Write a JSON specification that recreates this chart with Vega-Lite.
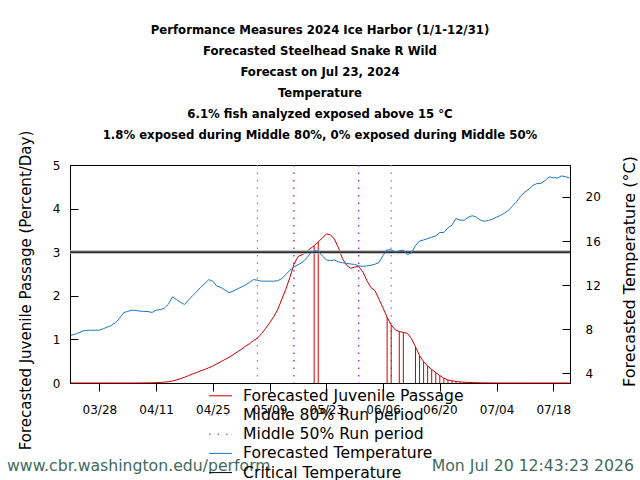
{
  "$schema": "https://vega.github.io/schema/vega-lite/v6.json",
  "width": 500,
  "height": 218,
  "autosize": {"type": "none"},
  "padding": {"left": 70, "top": 165, "right": 70, "bottom": 97},
  "background": "white",
  "title": {
    "text": [
      "Performance Measures 2024 Ice Harbor (1/1-12/31)",
      "Forecasted Steelhead Snake R Wild",
      "Forecast on Jul 23, 2024",
      "Temperature",
      "6.1% fish analyzed exposed above 15 °C",
      "1.8% exposed during Middle 80%, 0% exposed during Middle 50%"
    ],
    "anchor": "middle",
    "font": "'DejaVu Sans Condensed', 'Liberation Sans Narrow', sans-serif",
    "fontSize": 13,
    "fontWeight": "bold",
    "lineHeight": 21,
    "color": "black",
    "offset": -12
  },
  "datasets": {
    "daily": [
      {"date": "2024-03-21", "passage": 0, "temp": 7.45},
      {"date": "2024-03-22", "passage": 0, "temp": 7.55},
      {"date": "2024-03-23", "passage": 0, "temp": 7.68},
      {"date": "2024-03-24", "passage": 0, "temp": 7.85},
      {"date": "2024-03-25", "passage": 0, "temp": 7.9},
      {"date": "2024-03-26", "passage": 0, "temp": 7.91},
      {"date": "2024-03-27", "passage": 0, "temp": 7.91},
      {"date": "2024-03-28", "passage": 0, "temp": 7.92},
      {"date": "2024-03-29", "passage": 0, "temp": 8.05},
      {"date": "2024-03-30", "passage": 0, "temp": 8.2},
      {"date": "2024-03-31", "passage": 0, "temp": 8.35},
      {"date": "2024-04-01", "passage": 0, "temp": 8.6},
      {"date": "2024-04-02", "passage": 0, "temp": 9.0},
      {"date": "2024-04-03", "passage": 0, "temp": 9.5},
      {"date": "2024-04-04", "passage": 0, "temp": 9.62},
      {"date": "2024-04-05", "passage": 0, "temp": 9.73},
      {"date": "2024-04-06", "passage": 0, "temp": 9.7},
      {"date": "2024-04-07", "passage": 0.001, "temp": 9.64},
      {"date": "2024-04-08", "passage": 0.002, "temp": 9.62},
      {"date": "2024-04-09", "passage": 0.003, "temp": 9.6},
      {"date": "2024-04-10", "passage": 0.005, "temp": 9.52},
      {"date": "2024-04-11", "passage": 0.008, "temp": 9.73},
      {"date": "2024-04-12", "passage": 0.013, "temp": 9.77},
      {"date": "2024-04-13", "passage": 0.02, "temp": 9.9},
      {"date": "2024-04-14", "passage": 0.03, "temp": 10.25},
      {"date": "2024-04-15", "passage": 0.045, "temp": 10.93},
      {"date": "2024-04-16", "passage": 0.07, "temp": 10.7},
      {"date": "2024-04-17", "passage": 0.1, "temp": 10.45},
      {"date": "2024-04-18", "passage": 0.13, "temp": 10.24},
      {"date": "2024-04-19", "passage": 0.17, "temp": 10.65},
      {"date": "2024-04-20", "passage": 0.21, "temp": 11.05},
      {"date": "2024-04-21", "passage": 0.24, "temp": 11.4},
      {"date": "2024-04-22", "passage": 0.28, "temp": 11.8},
      {"date": "2024-04-23", "passage": 0.31, "temp": 12.15},
      {"date": "2024-04-24", "passage": 0.35, "temp": 12.5},
      {"date": "2024-04-25", "passage": 0.39, "temp": 12.35},
      {"date": "2024-04-26", "passage": 0.44, "temp": 11.9},
      {"date": "2024-04-27", "passage": 0.49, "temp": 11.8},
      {"date": "2024-04-28", "passage": 0.54, "temp": 11.55},
      {"date": "2024-04-29", "passage": 0.59, "temp": 11.32},
      {"date": "2024-04-30", "passage": 0.65, "temp": 11.45},
      {"date": "2024-05-01", "passage": 0.71, "temp": 11.65},
      {"date": "2024-05-02", "passage": 0.77, "temp": 11.82},
      {"date": "2024-05-03", "passage": 0.84, "temp": 12.0},
      {"date": "2024-05-04", "passage": 0.9, "temp": 12.25},
      {"date": "2024-05-05", "passage": 0.97, "temp": 12.5},
      {"date": "2024-05-06", "passage": 1.03, "temp": 12.45},
      {"date": "2024-05-07", "passage": 1.13, "temp": 12.36},
      {"date": "2024-05-08", "passage": 1.25, "temp": 12.36},
      {"date": "2024-05-09", "passage": 1.38, "temp": 12.36},
      {"date": "2024-05-10", "passage": 1.52, "temp": 12.36},
      {"date": "2024-05-11", "passage": 1.68, "temp": 12.4},
      {"date": "2024-05-12", "passage": 1.92, "temp": 12.6},
      {"date": "2024-05-13", "passage": 2.15, "temp": 12.95},
      {"date": "2024-05-14", "passage": 2.42, "temp": 13.35},
      {"date": "2024-05-15", "passage": 2.72, "temp": 13.65},
      {"date": "2024-05-16", "passage": 2.9, "temp": 13.85},
      {"date": "2024-05-17", "passage": 2.94, "temp": 14.05},
      {"date": "2024-05-18", "passage": 3.0, "temp": 14.4},
      {"date": "2024-05-19", "passage": 3.08, "temp": 14.85},
      {"date": "2024-05-20", "passage": 3.15, "temp": 15.12},
      {"date": "2024-05-21", "passage": 3.24, "temp": 15.1},
      {"date": "2024-05-22", "passage": 3.32, "temp": 14.65},
      {"date": "2024-05-23", "passage": 3.42, "temp": 14.3},
      {"date": "2024-05-24", "passage": 3.4, "temp": 14.22},
      {"date": "2024-05-25", "passage": 3.3, "temp": 14.28},
      {"date": "2024-05-26", "passage": 3.1, "temp": 14.12},
      {"date": "2024-05-27", "passage": 2.85, "temp": 14.03},
      {"date": "2024-05-28", "passage": 2.7, "temp": 13.98},
      {"date": "2024-05-29", "passage": 2.63, "temp": 13.92},
      {"date": "2024-05-30", "passage": 2.66, "temp": 13.88},
      {"date": "2024-05-31", "passage": 2.67, "temp": 13.75},
      {"date": "2024-06-01", "passage": 2.55, "temp": 13.7},
      {"date": "2024-06-02", "passage": 2.35, "temp": 13.75},
      {"date": "2024-06-03", "passage": 2.19, "temp": 13.8},
      {"date": "2024-06-04", "passage": 2.12, "temp": 13.9},
      {"date": "2024-06-05", "passage": 1.92, "temp": 14.05},
      {"date": "2024-06-06", "passage": 1.72, "temp": 14.7},
      {"date": "2024-06-07", "passage": 1.51, "temp": 15.2},
      {"date": "2024-06-08", "passage": 1.33, "temp": 15.2},
      {"date": "2024-06-09", "passage": 1.22, "temp": 14.98},
      {"date": "2024-06-10", "passage": 1.18, "temp": 15.1},
      {"date": "2024-06-11", "passage": 1.16, "temp": 15.18},
      {"date": "2024-06-12", "passage": 1.14, "temp": 14.75},
      {"date": "2024-06-13", "passage": 1.02, "temp": 14.93},
      {"date": "2024-06-14", "passage": 0.83, "temp": 15.6},
      {"date": "2024-06-15", "passage": 0.63, "temp": 16.0},
      {"date": "2024-06-16", "passage": 0.49, "temp": 16.1},
      {"date": "2024-06-17", "passage": 0.39, "temp": 16.22},
      {"date": "2024-06-18", "passage": 0.31, "temp": 16.35},
      {"date": "2024-06-19", "passage": 0.24, "temp": 16.47},
      {"date": "2024-06-20", "passage": 0.17, "temp": 16.77},
      {"date": "2024-06-21", "passage": 0.11, "temp": 16.77},
      {"date": "2024-06-22", "passage": 0.07, "temp": 17.2},
      {"date": "2024-06-23", "passage": 0.05, "temp": 17.44},
      {"date": "2024-06-24", "passage": 0.035, "temp": 18.05},
      {"date": "2024-06-25", "passage": 0.025, "temp": 17.9},
      {"date": "2024-06-26", "passage": 0.018, "temp": 17.89},
      {"date": "2024-06-27", "passage": 0.013, "temp": 18.15},
      {"date": "2024-06-28", "passage": 0.009, "temp": 18.3},
      {"date": "2024-06-29", "passage": 0.006, "temp": 18.18},
      {"date": "2024-06-30", "passage": 0.004, "temp": 17.9},
      {"date": "2024-07-01", "passage": 0.003, "temp": 17.8},
      {"date": "2024-07-02", "passage": 0.002, "temp": 17.86},
      {"date": "2024-07-03", "passage": 0.001, "temp": 18.0},
      {"date": "2024-07-04", "passage": 0, "temp": 18.17},
      {"date": "2024-07-05", "passage": 0, "temp": 18.33},
      {"date": "2024-07-06", "passage": 0, "temp": 18.55},
      {"date": "2024-07-07", "passage": 0, "temp": 18.8},
      {"date": "2024-07-08", "passage": 0, "temp": 19.2},
      {"date": "2024-07-09", "passage": 0, "temp": 19.6},
      {"date": "2024-07-10", "passage": 0, "temp": 20.1},
      {"date": "2024-07-11", "passage": 0, "temp": 20.45},
      {"date": "2024-07-12", "passage": 0, "temp": 20.7},
      {"date": "2024-07-13", "passage": 0, "temp": 21.05},
      {"date": "2024-07-14", "passage": 0, "temp": 21.22},
      {"date": "2024-07-15", "passage": 0, "temp": 21.24},
      {"date": "2024-07-16", "passage": 0, "temp": 21.5},
      {"date": "2024-07-17", "passage": 0, "temp": 21.82},
      {"date": "2024-07-18", "passage": 0, "temp": 21.75},
      {"date": "2024-07-19", "passage": 0, "temp": 21.72},
      {"date": "2024-07-20", "passage": 0, "temp": 21.9},
      {"date": "2024-07-21", "passage": 0, "temp": 21.85},
      {"date": "2024-07-22", "passage": 0, "temp": 21.72}
    ],
    "periods": [
      {"date": "2024-05-06", "series": "Middle 80% Run period"},
      {"date": "2024-06-08", "series": "Middle 80% Run period"},
      {"date": "2024-05-15", "series": "Middle 50% Run period"},
      {"date": "2024-05-31", "series": "Middle 50% Run period"}
    ]
  },
  "layer": [
    {
      "layer": [
        {
          "data": {"name": "periods"},
          "mark": {"type": "rule", "strokeWidth": 1.2, "strokeDash": [1.5, 6]},
          "encoding": {
            "x": {
              "field": "date",
              "type": "temporal",
              "scale": {"type": "utc", "domain": [1710957600000, 1721617200000]},
              "axis": {
                "title": null,
                "labelExpr": "utcFormat(datum.value, '%m/%d')",
                "values": [1711584000000, 1712793600000, 1714003200000, 1715212800000, 1716422400000, 1717632000000, 1718841600000, 1720051200000, 1721260800000],
                "tickSize": 8,
                "labelPadding": 13,
                "labelFlush": false,
                "labelOverlap": false
              }
            },
            "color": {
              "field": "series",
              "type": "nominal",
              "scale": {
                "domain": [
                  "Forecasted Juvenile Passage",
                  "Middle 80% Run period",
                  "Middle 50% Run period",
                  "Forecasted Temperature",
                  "Critical Temperature"
                ],
                "range": ["#cc0000", "#888888", "#9400d3", "#1a78c2", "black"]
              },
              "legend": {
                "title": null,
                "encode": {
                  "symbols": {
                    "update": {
                      "strokeDash": {"signal": "indexof(['Middle 80% Run period','Middle 50% Run period'], datum.value) >= 0 ? [1.5, 7] : []"}
                    }
                  }
                }
              }
            }
          }
        },
        {
          "data": {"name": "daily"},
          "transform": [{"filter": "datum.temp > 15 && datum.passage > 0"}],
          "mark": {"type": "rule", "color": "#cc0000", "strokeWidth": 1},
          "encoding": {
            "x": {"field": "date", "type": "temporal"},
            "y": {"field": "passage", "type": "quantitative"},
            "y2": {"datum": 0}
          }
        },
        {
          "data": {"name": "daily"},
          "mark": {"type": "line", "strokeWidth": 1, "interpolate": "linear"},
          "encoding": {
            "x": {"field": "date", "type": "temporal"},
            "y": {
              "field": "passage",
              "type": "quantitative",
              "scale": {"domain": [0, 5], "nice": false, "zero": false},
              "axis": {
                "orient": "left",
                "title": "Forecasted Juvenile Passage (Percent/Day)",
                "titleFontSize": 15,
                "titleAngle": 270,
                "titleAlign": "center",
                "titleBaseline": "middle",
                "titleX": -45,
                "titleY": 125,
                "values": [0, 1, 2, 3, 4, 5],
                "tickSize": -8,
                "labelPadding": 18
              }
            },
            "color": {"datum": "Forecasted Juvenile Passage", "legend": {"title": null}}
          }
        },
        {
          "data": {"values": [{"label": "www.cbr.washington.edu/perform"}]},
          "mark": {"type": "text", "align": "left", "baseline": "middle", "fontSize": 15.7, "font": "DejaVu Sans", "color": "#3f6b60"},
          "encoding": {
            "x": {"datum": 1709614800000, "type": "temporal"},
            "y": {"datum": -1.9, "type": "quantitative"},
            "text": {"field": "label"}
          }
        },
        {
          "data": {"values": [{"label": "Mon Jul 20 12:43:23 2026"}]},
          "mark": {"type": "text", "align": "right", "baseline": "middle", "fontSize": 15.7, "font": "DejaVu Sans", "color": "#3f6b60"},
          "encoding": {
            "x": {"datum": 1722981600000, "type": "temporal"},
            "y": {"datum": -1.9, "type": "quantitative"},
            "text": {"field": "label"}
          }
        }
      ]
    },
    {
      "layer": [
        {
          "data": {"values": [{}]},
          "mark": {"type": "rule", "color": "#b4b4b4", "strokeWidth": 3.5},
          "encoding": {"y": {"datum": 15}}
        },
        {
          "data": {"values": [{}]},
          "mark": {"type": "rule", "strokeWidth": 1.3},
          "encoding": {
            "y": {"datum": 15},
            "color": {"datum": "Critical Temperature", "legend": {"title": null}}
          }
        },
        {
          "data": {"name": "daily"},
          "mark": {"type": "line", "strokeWidth": 1, "interpolate": "linear"},
          "encoding": {
            "x": {"field": "date", "type": "temporal"},
            "y": {
              "field": "temp",
              "type": "quantitative",
              "scale": {"domain": [3.12, 22.9], "nice": false, "zero": false},
              "axis": {
                "orient": "right",
                "title": "Forecasted Temperature (°C)",
                "titleFontSize": 16,
                "titleAngle": 270,
                "titleAlign": "center",
                "titleBaseline": "middle",
                "titleX": 59,
                "titleY": 106,
                "values": [4, 6, 8, 10, 12, 14, 16, 18, 20, 22],
                "tickSize": -8,
                "labelPadding": 23
              }
            },
            "color": {"datum": "Forecasted Temperature", "legend": {"title": null}}
          }
        }
      ]
    }
  ],
  "resolve": {"scale": {"y": "independent"}},
  "config": {
    "view": {"stroke": "black", "strokeWidth": 1},
    "font": "DejaVu Sans",
    "axis": {
      "grid": false,
      "domainColor": "black",
      "domainWidth": 1,
      "tickColor": "black",
      "tickWidth": 1,
      "labelColor": "black",
      "labelFont": "DejaVu Sans",
      "labelFontSize": 12,
      "titleColor": "black",
      "titleFont": "DejaVu Sans",
      "titleFontWeight": "normal"
    },
    "legend": {
      "orient": "none",
      "legendX": 142.75,
      "legendY": 223,
      "padding": 0,
      "symbolType": "M-2,0H2",
      "symbolSize": 132.25,
      "symbolStrokeWidth": 1,
      "labelFont": "DejaVu Sans",
      "labelFontSize": 15.6,
      "labelColor": "black",
      "labelLimit": 0,
      "rowPadding": 2.2,
      "labelOffset": 14.75
    }
  }
}
